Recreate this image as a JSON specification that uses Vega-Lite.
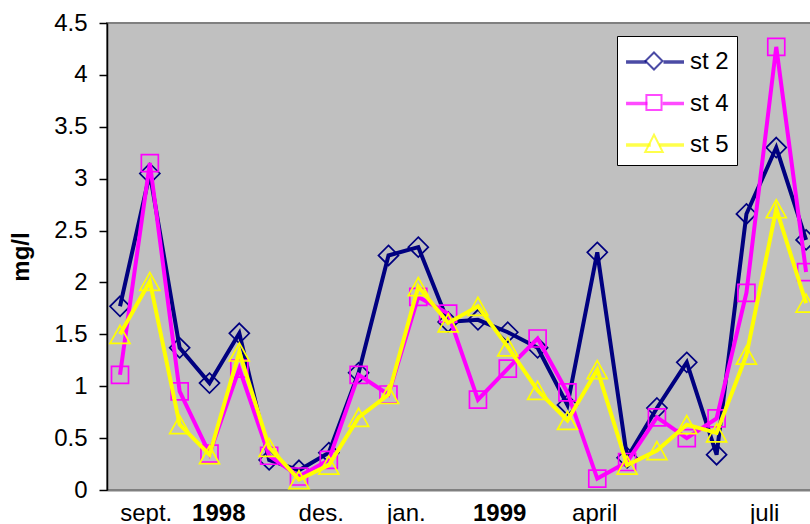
{
  "$schema": "https://vega.github.io/schema/vega-lite/v6.json",
  "width": 710,
  "height": 467,
  "autosize": {"type": "none"},
  "padding": {"left": 107, "top": 23, "right": 0, "bottom": 34},
  "background": "white",
  "config": {
    "font": "Liberation Sans",
    "view": {"fill": "#C0C0C0", "stroke": "#808080", "strokeWidth": 2}
  },
  "datasets": {
    "d": [
      {"i": 1, "series": "st 2", "v": 1.77}, {"i": 2, "series": "st 2", "v": 3.05}, {"i": 3, "series": "st 2", "v": 1.37}, {"i": 4, "series": "st 2", "v": 1.03},
      {"i": 5, "series": "st 2", "v": 1.51}, {"i": 6, "series": "st 2", "v": 0.29}, {"i": 7, "series": "st 2", "v": 0.19}, {"i": 8, "series": "st 2", "v": 0.36},
      {"i": 9, "series": "st 2", "v": 1.13}, {"i": 10, "series": "st 2", "v": 2.26}, {"i": 11, "series": "st 2", "v": 2.34}, {"i": 12, "series": "st 2", "v": 1.62},
      {"i": 13, "series": "st 2", "v": 1.64}, {"i": 14, "series": "st 2", "v": 1.52}, {"i": 15, "series": "st 2", "v": 1.37}, {"i": 16, "series": "st 2", "v": 0.82},
      {"i": 17, "series": "st 2", "v": 2.29}, {"i": 18, "series": "st 2", "v": 0.31}, {"i": 19, "series": "st 2", "v": 0.79}, {"i": 20, "series": "st 2", "v": 1.23},
      {"i": 21, "series": "st 2", "v": 0.34}, {"i": 22, "series": "st 2", "v": 2.66}, {"i": 23, "series": "st 2", "v": 3.30}, {"i": 24, "series": "st 2", "v": 2.41},
      {"i": 1, "series": "st 4", "v": 1.11}, {"i": 2, "series": "st 4", "v": 3.15}, {"i": 3, "series": "st 4", "v": 0.95}, {"i": 4, "series": "st 4", "v": 0.35},
      {"i": 5, "series": "st 4", "v": 1.17}, {"i": 6, "series": "st 4", "v": 0.33}, {"i": 7, "series": "st 4", "v": 0.13}, {"i": 8, "series": "st 4", "v": 0.29},
      {"i": 9, "series": "st 4", "v": 1.11}, {"i": 10, "series": "st 4", "v": 0.92}, {"i": 11, "series": "st 4", "v": 1.86}, {"i": 12, "series": "st 4", "v": 1.70},
      {"i": 13, "series": "st 4", "v": 0.87}, {"i": 14, "series": "st 4", "v": 1.17}, {"i": 15, "series": "st 4", "v": 1.46}, {"i": 16, "series": "st 4", "v": 0.94},
      {"i": 17, "series": "st 4", "v": 0.11}, {"i": 18, "series": "st 4", "v": 0.27}, {"i": 19, "series": "st 4", "v": 0.70}, {"i": 20, "series": "st 4", "v": 0.50},
      {"i": 21, "series": "st 4", "v": 0.69}, {"i": 22, "series": "st 4", "v": 1.90}, {"i": 23, "series": "st 4", "v": 4.27}, {"i": 24, "series": "st 4", "v": 2.10},
      {"i": 1, "series": "st 5", "v": 1.50}, {"i": 2, "series": "st 5", "v": 2.01}, {"i": 3, "series": "st 5", "v": 0.63}, {"i": 4, "series": "st 5", "v": 0.34},
      {"i": 5, "series": "st 5", "v": 1.33}, {"i": 6, "series": "st 5", "v": 0.41}, {"i": 7, "series": "st 5", "v": 0.10}, {"i": 8, "series": "st 5", "v": 0.24},
      {"i": 9, "series": "st 5", "v": 0.70}, {"i": 10, "series": "st 5", "v": 0.92}, {"i": 11, "series": "st 5", "v": 1.96}, {"i": 12, "series": "st 5", "v": 1.61},
      {"i": 13, "series": "st 5", "v": 1.77}, {"i": 14, "series": "st 5", "v": 1.38}, {"i": 15, "series": "st 5", "v": 0.96}, {"i": 16, "series": "st 5", "v": 0.67},
      {"i": 17, "series": "st 5", "v": 1.16}, {"i": 18, "series": "st 5", "v": 0.24}, {"i": 19, "series": "st 5", "v": 0.38}, {"i": 20, "series": "st 5", "v": 0.63},
      {"i": 21, "series": "st 5", "v": 0.55}, {"i": 22, "series": "st 5", "v": 1.30}, {"i": 23, "series": "st 5", "v": 2.71}, {"i": 24, "series": "st 5", "v": 1.80}
    ]
  },
  "data": {"name": "d"},
  "encoding": {
    "x": {
      "field": "i",
      "type": "quantitative",
      "scale": {"domain": [0.564, 24.366], "nice": false, "zero": false},
      "axis": {
        "title": null,
        "values": [1.862, 4.295, 7.731, 10.581, 13.712, 16.897, 22.596],
        "labelExpr": "datum.value < 3 ? 'sept.' : datum.value < 6 ? '1998' : datum.value < 9 ? 'des.' : datum.value < 12 ? 'jan.' : datum.value < 15 ? '1999' : datum.value < 20 ? 'april' : 'juli'",
        "labelFontWeight": {"condition": {"test": "datum.value > 4 && datum.value < 5 || datum.value > 13 && datum.value < 14", "value": "bold"}, "value": "normal"},
        "labelFontSize": 24,
        "labelColor": "black",
        "labelPadding": 11,
        "labelFlush": false,
        "labelOverlap": false,
        "ticks": false,
        "tickSize": 0,
        "grid": false,
        "domainColor": "#808080",
        "domainWidth": 2
      }
    },
    "y": {
      "field": "v",
      "type": "quantitative",
      "scale": {"domain": [0, 4.5], "nice": false},
      "axis": {
        "title": "mg/l",
        "titleFontSize": 24,
        "titleFontWeight": "bold",
        "titleColor": "black",
        "titlePadding": 20,
        "values": [0, 0.5, 1, 1.5, 2, 2.5, 3, 3.5, 4, 4.5],
        "format": "~g",
        "labelFontSize": 24,
        "labelColor": "black",
        "labelPadding": 12,
        "labelFlush": false,
        "labelOverlap": false,
        "tickSize": 8,
        "tickColor": "black",
        "tickWidth": 1.5,
        "grid": false,
        "domainColor": "black",
        "domainWidth": 1.5
      }
    }
  },
  "layer": [
    {"transform": [{"filter": "datum.series == 'st 2'"}], "mark": {"type": "line", "strokeWidth": 4, "color": "#000080"}},
    {"transform": [{"filter": "datum.series == 'st 2'"}], "mark": {"type": "point", "shape": "M0,-1L1,0L0,1L-1,0Z", "size": 400, "filled": false, "strokeWidth": 1.7, "opacity": 1, "color": "#000080"}},
    {"transform": [{"filter": "datum.series == 'st 4'"}], "mark": {"type": "line", "strokeWidth": 4, "color": "#FF00FF"}},
    {"transform": [{"filter": "datum.series == 'st 4'"}], "mark": {"type": "point", "shape": "M-0.85,-0.85H0.85V0.85H-0.85Z", "size": 400, "filled": false, "strokeWidth": 1.7, "opacity": 1, "color": "#FF00FF"}},
    {"transform": [{"filter": "datum.series == 'st 5'"}], "mark": {"type": "line", "strokeWidth": 4, "color": "#FFFF00"}},
    {"transform": [{"filter": "datum.series == 'st 5'"}], "mark": {"type": "point", "shape": "M0,-0.9L1,0.9H-1Z", "size": 400, "filled": false, "strokeWidth": 1.7, "opacity": 1, "color": "#FFFF00"}},
    {
      "transform": [{"filter": "false"}],
      "mark": {"type": "point", "filled": false, "size": 576, "strokeWidth": 3.3},
      "encoding": {
        "shape": {
          "field": "series",
          "type": "nominal",
          "scale": {
            "domain": ["st 2", "st 4", "st 5"],
            "range": [
              "M-1.08,0H0.62M2.04,0H3.75",
              "M-1.08,0H0.70M1.96,0H3.75",
              "M-1.08,0H0.98M1.68,0H3.75"
            ]
          },
          "legend": {
            "orient": "none", "legendX": 510, "legendY": 13, "title": " ", "titleFontSize": 1, "titlePadding": 3, "padding": 8,
            "strokeColor": "black", "fillColor": "white", "cornerRadius": 0,
            "labelFontSize": 24, "labelFont": "Liberation Sans", "labelColor": "black",
            "symbolSize": 576, "symbolStrokeWidth": 3.3, "rowPadding": 15.5, "labelOffset": 37
          }
        },
        "color": {
          "field": "series",
          "type": "nominal",
          "scale": {"domain": ["st 2", "st 4", "st 5"], "range": ["#000080", "#FF00FF", "#FFFF00"]},
          "legend": {
            "orient": "none", "legendX": 510, "legendY": 13, "title": " ", "titleFontSize": 1, "titlePadding": 3, "padding": 8,
            "strokeColor": "black", "fillColor": "white", "cornerRadius": 0,
            "labelFontSize": 24, "labelFont": "Liberation Sans", "labelColor": "black",
            "symbolSize": 576, "symbolStrokeWidth": 3.3, "rowPadding": 15.5, "labelOffset": 37
          }
        }
      }
    },
    {
      "transform": [{"filter": "false"}],
      "mark": {"type": "point", "filled": false, "size": 576, "strokeWidth": 2},
      "encoding": {
        "shape": {
          "field": "series",
          "type": "nominal",
          "scale": {
            "domain": ["st 2", "st 4", "st 5"],
            "range": [
              "M1.333,-0.71L2.04,0L1.333,0.71L0.62,0Z",
              "M0.70,-0.63H1.96V0.63H0.70Z",
              "M1.333,-0.69L2.06,0.75H0.60Z"
            ]
          },
          "legend": {
            "orient": "none", "legendX": 510, "legendY": 13, "title": " ", "titleFontSize": 1, "titlePadding": 3, "padding": 8,
            "strokeColor": "transparent", "fillColor": "transparent", "cornerRadius": 0,
            "labelFontSize": 24, "labelFont": "Liberation Sans", "labelColor": "black", "labelExpr": "''",
            "symbolSize": 576, "symbolStrokeWidth": 2, "rowPadding": 15.5, "labelOffset": 38.3
          }
        },
        "color": {
          "field": "series",
          "type": "nominal",
          "scale": {"domain": ["st 2", "st 4", "st 5"], "range": ["#000080", "#FF00FF", "#FFFF00"]},
          "legend": {
            "orient": "none", "legendX": 510, "legendY": 13, "title": " ", "titleFontSize": 1, "titlePadding": 3, "padding": 8,
            "strokeColor": "transparent", "fillColor": "transparent", "cornerRadius": 0,
            "labelFontSize": 24, "labelFont": "Liberation Sans", "labelColor": "black", "labelExpr": "''",
            "symbolSize": 576, "symbolStrokeWidth": 2, "rowPadding": 15.5, "labelOffset": 38.3
          }
        }
      }
    }
  ],
  "resolve": {"scale": {"shape": "independent", "color": "independent"}}
}
